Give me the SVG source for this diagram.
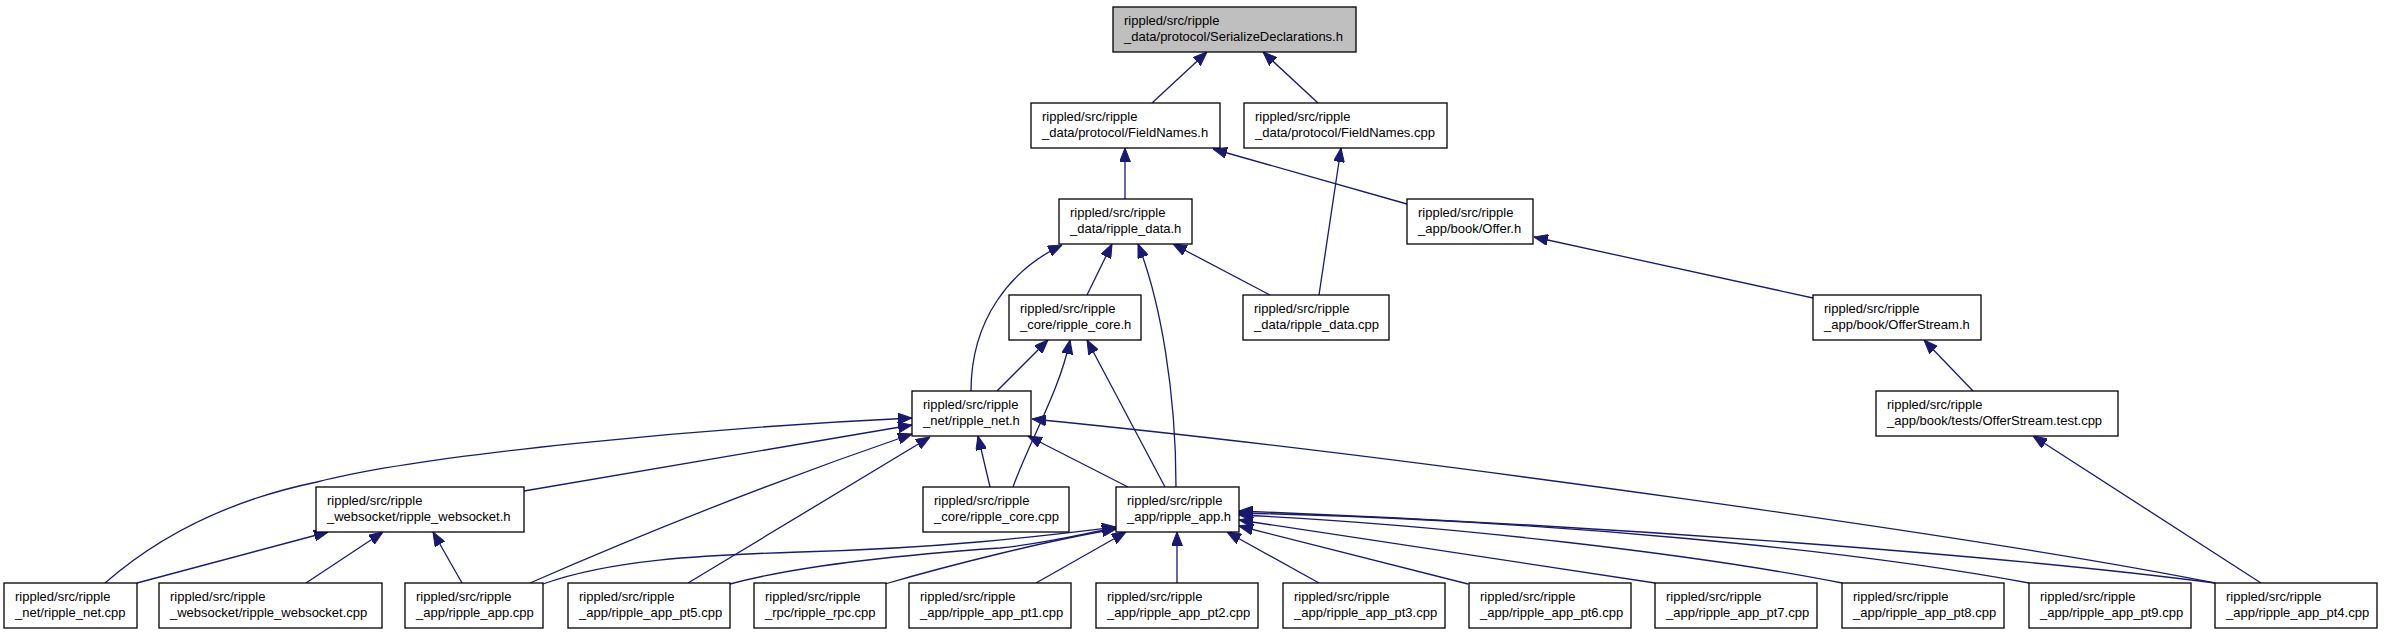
<svg xmlns="http://www.w3.org/2000/svg" width="2384" height="635" viewBox="0 0 2384 635">
<style>
.node rect{fill:#fff;stroke:#000;stroke-width:1.3}
.node.root rect{fill:#bfbfbf}
.node text{font-family:"Liberation Sans",Arial,sans-serif;font-size:13px;fill:#000}
.edges path{fill:none;stroke:#191970;stroke-width:1.3;marker-end:url(#arr)}
</style>
<defs>
<marker id="arr" markerUnits="userSpaceOnUse" markerWidth="14" markerHeight="11" refX="14" refY="5.5" orient="auto" viewBox="0 0 14 11">
<path d="M0,0 L14,5.5 L0,11 z" fill="#191970" stroke="#191970" stroke-width="1"/>
</marker>
</defs>
<rect width="2384" height="635" fill="#fff"/>
<g class="edges">
<path d="M1152,103 L1207,52"/>
<path d="M1318,103 L1263,52"/>
<path d="M1125,199 L1125,148"/>
<path d="M1407,204 L1213,149"/>
<path d="M1319,295 L1341,148"/>
<path d="M1813,298 L1534,237"/>
<path d="M1973,391 L1924,340"/>
<path d="M2261,583 L2033,436"/>
<path d="M1087,295 L1112,244"/>
<path d="M1270,295 L1173,244"/>
<path d="M971,391 C971,320 1010,270 1062,245"/>
<path d="M1176,487 C1176,390 1160,300 1138,244"/>
<path d="M997,391 L1048,340"/>
<path d="M1013,487 C1030,440 1060,390 1070,340"/>
<path d="M1165,487 L1087,340"/>
<path d="M990,487 L978,436"/>
<path d="M1128,487 L1028,436"/>
<path d="M2215,583 C2000,540 1400,455 1032,419"/>
<path d="M105,583 C160,535 230,500 317,482 C420,455 700,428 912,418"/>
<path d="M524,491 L912,425"/>
<path d="M530,583 Q720,500 912,434"/>
<path d="M688,583 L930,437"/>
<path d="M137,583 L328,532"/>
<path d="M306,583 L383,532"/>
<path d="M462,583 L433,532"/>
<path d="M543,584 C610,560 700,555 800,552 C950,548 1050,535 1116,527"/>
<path d="M730,584 C800,565 900,555 1000,548 C1050,543 1090,532 1116,528"/>
<path d="M885,584 C950,565 1050,540 1116,529"/>
<path d="M1036,583 L1126,532"/>
<path d="M1177,583 L1177,532"/>
<path d="M1319,583 L1227,532"/>
<path d="M1468,584 L1239,526"/>
<path d="M1655,583 L1239,520"/>
<path d="M1842,583 C1700,555 1450,525 1239,515"/>
<path d="M2029,583 C1850,550 1550,520 1239,513"/>
<path d="M2215,583 C2000,555 1600,525 1239,511"/>
</g>
<g id="n_serialize" class="node root"><rect x="1113" y="7" width="243" height="45"/><text x="1124" y="25">rippled/src/ripple</text><text x="1124" y="41">_data/protocol/SerializeDeclarations.h</text></g>
<g id="n_fieldnames_h" class="node"><rect x="1031" y="103" width="189" height="45"/><text x="1042" y="121">rippled/src/ripple</text><text x="1042" y="137">_data/protocol/FieldNames.h</text></g>
<g id="n_fieldnames_cpp" class="node"><rect x="1244" y="103" width="203" height="45"/><text x="1255" y="121">rippled/src/ripple</text><text x="1255" y="137">_data/protocol/FieldNames.cpp</text></g>
<g id="n_ripple_data_h" class="node"><rect x="1059" y="199" width="133" height="45"/><text x="1070" y="217">rippled/src/ripple</text><text x="1070" y="233">_data/ripple_data.h</text></g>
<g id="n_offer_h" class="node"><rect x="1407" y="199" width="126" height="45"/><text x="1418" y="217">rippled/src/ripple</text><text x="1418" y="233">_app/book/Offer.h</text></g>
<g id="n_ripple_core_h" class="node"><rect x="1009" y="295" width="132" height="45"/><text x="1020" y="313">rippled/src/ripple</text><text x="1020" y="329">_core/ripple_core.h</text></g>
<g id="n_ripple_data_cpp" class="node"><rect x="1243" y="295" width="146" height="45"/><text x="1254" y="313">rippled/src/ripple</text><text x="1254" y="329">_data/ripple_data.cpp</text></g>
<g id="n_offerstream_h" class="node"><rect x="1813" y="295" width="168" height="45"/><text x="1824" y="313">rippled/src/ripple</text><text x="1824" y="329">_app/book/OfferStream.h</text></g>
<g id="n_ripple_net_h" class="node"><rect x="912" y="391" width="119" height="45"/><text x="923" y="409">rippled/src/ripple</text><text x="923" y="425">_net/ripple_net.h</text></g>
<g id="n_offerstream_test" class="node"><rect x="1876" y="391" width="242" height="45"/><text x="1887" y="409">rippled/src/ripple</text><text x="1887" y="425">_app/book/tests/OfferStream.test.cpp</text></g>
<g id="n_ripple_websocket_h" class="node"><rect x="316" y="487" width="208" height="45"/><text x="327" y="505">rippled/src/ripple</text><text x="327" y="521">_websocket/ripple_websocket.h</text></g>
<g id="n_ripple_core_cpp" class="node"><rect x="923" y="487" width="146" height="45"/><text x="934" y="505">rippled/src/ripple</text><text x="934" y="521">_core/ripple_core.cpp</text></g>
<g id="n_ripple_app_h" class="node"><rect x="1116" y="487" width="123" height="45"/><text x="1127" y="505">rippled/src/ripple</text><text x="1127" y="521">_app/ripple_app.h</text></g>
<g id="n_ripple_net_cpp" class="node"><rect x="4" y="583" width="133" height="45"/><text x="15" y="601">rippled/src/ripple</text><text x="15" y="617">_net/ripple_net.cpp</text></g>
<g id="n_ripple_websocket_cpp" class="node"><rect x="159" y="583" width="223" height="45"/><text x="170" y="601">rippled/src/ripple</text><text x="170" y="617">_websocket/ripple_websocket.cpp</text></g>
<g id="n_ripple_app_cpp" class="node"><rect x="405" y="583" width="138" height="45"/><text x="416" y="601">rippled/src/ripple</text><text x="416" y="617">_app/ripple_app.cpp</text></g>
<g id="n_pt5" class="node"><rect x="568" y="583" width="162" height="45"/><text x="579" y="601">rippled/src/ripple</text><text x="579" y="617">_app/ripple_app_pt5.cpp</text></g>
<g id="n_rpc" class="node"><rect x="754" y="583" width="132" height="45"/><text x="765" y="601">rippled/src/ripple</text><text x="765" y="617">_rpc/ripple_rpc.cpp</text></g>
<g id="n_pt1" class="node"><rect x="909" y="583" width="162" height="45"/><text x="920" y="601">rippled/src/ripple</text><text x="920" y="617">_app/ripple_app_pt1.cpp</text></g>
<g id="n_pt2" class="node"><rect x="1096" y="583" width="162" height="45"/><text x="1107" y="601">rippled/src/ripple</text><text x="1107" y="617">_app/ripple_app_pt2.cpp</text></g>
<g id="n_pt3" class="node"><rect x="1283" y="583" width="162" height="45"/><text x="1294" y="601">rippled/src/ripple</text><text x="1294" y="617">_app/ripple_app_pt3.cpp</text></g>
<g id="n_pt6" class="node"><rect x="1469" y="583" width="162" height="45"/><text x="1480" y="601">rippled/src/ripple</text><text x="1480" y="617">_app/ripple_app_pt6.cpp</text></g>
<g id="n_pt7" class="node"><rect x="1655" y="583" width="162" height="45"/><text x="1666" y="601">rippled/src/ripple</text><text x="1666" y="617">_app/ripple_app_pt7.cpp</text></g>
<g id="n_pt8" class="node"><rect x="1842" y="583" width="162" height="45"/><text x="1853" y="601">rippled/src/ripple</text><text x="1853" y="617">_app/ripple_app_pt8.cpp</text></g>
<g id="n_pt9" class="node"><rect x="2029" y="583" width="162" height="45"/><text x="2040" y="601">rippled/src/ripple</text><text x="2040" y="617">_app/ripple_app_pt9.cpp</text></g>
<g id="n_pt4" class="node"><rect x="2215" y="583" width="162" height="45"/><text x="2226" y="601">rippled/src/ripple</text><text x="2226" y="617">_app/ripple_app_pt4.cpp</text></g>
</svg>
